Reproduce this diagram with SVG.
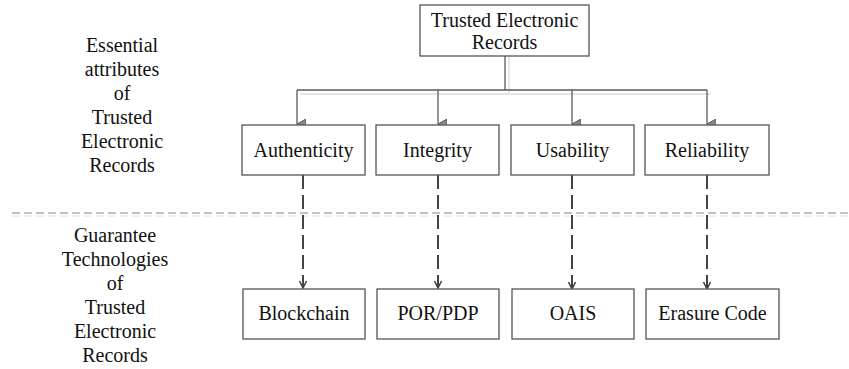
<svg xmlns="http://www.w3.org/2000/svg" width="849" height="369" viewBox="0 0 849 369">
  <style>
    text { font-family: "Liberation Serif", "Times New Roman", serif; font-size: 20px; fill: #111; text-anchor: middle; }
    .box { fill: #fff; stroke: #555; stroke-width: 1.3; }
    .tree { fill: none; stroke: #5a5a5a; stroke-width: 1.3; }
    .ghost { fill: none; stroke: #dcdcdc; stroke-width: 1.3; }
    .dash { fill: none; stroke: #444; stroke-width: 2; stroke-dasharray: 14 6; }
    .head { fill: none; stroke: #444; stroke-width: 1.6; }
    .sep { fill: none; stroke: #8a8a8a; stroke-width: 1.2; stroke-dasharray: 8 4; }
    .sep2 { fill: none; stroke: #e2e2e2; stroke-width: 1.2; stroke-dasharray: 8 4; }
  </style>
  <defs>
    <marker id="tri" viewBox="0 0 10 9" refX="5" refY="9" markerWidth="10" markerHeight="9" markerUnits="userSpaceOnUse" orient="auto-start-reverse">
      <path d="M0,0 L10,0 L5,9 Z" fill="#8a8a8a" stroke="#555" stroke-width="1"/>
    </marker>
  </defs>

  <!-- Section labels -->
  <g id="label-attributes">
    <text x="122" y="52">Essential</text>
    <text x="122" y="76">attributes</text>
    <text x="122" y="100">of</text>
    <text x="122" y="124">Trusted</text>
    <text x="122" y="148">Electronic</text>
    <text x="122" y="172">Records</text>
  </g>
  <g id="label-technologies">
    <text x="115" y="242">Guarantee</text>
    <text x="115" y="266">Technologies</text>
    <text x="115" y="290">of</text>
    <text x="115" y="314">Trusted</text>
    <text x="115" y="338">Electronic</text>
    <text x="115" y="362">Records</text>
  </g>

  <!-- Separator between the two layers -->
  <g id="separator">
    <line class="sep2" x1="12" y1="216" x2="849" y2="216"/>
    <line class="sep" x1="12" y1="213" x2="849" y2="213"/>
  </g>

  <!-- Connectors -->
  <g id="connectors">
    <path class="ghost" d="M509,56 V94 M300,94 H711"/>
    <path class="tree" d="M505,56 V90 M297,90 H707"/>
    <line class="tree" x1="297" y1="90" x2="297" y2="124" marker-end="url(#tri)"/>
    <line class="tree" x1="438" y1="90" x2="438" y2="124" marker-end="url(#tri)"/>
    <line class="tree" x1="572" y1="90" x2="572" y2="124" marker-end="url(#tri)"/>
    <line class="tree" x1="707" y1="90" x2="707" y2="124" marker-end="url(#tri)"/>

    <line class="dash" x1="303" y1="175" x2="303" y2="287"/>
    <line class="dash" x1="438" y1="175" x2="438" y2="287"/>
    <line class="dash" x1="572" y1="175" x2="572" y2="288"/>
    <line class="dash" x1="707" y1="175" x2="707" y2="288"/>
    <path class="head" d="M299.5,281 L303,288 L306.5,281"/>
    <path class="head" d="M434.5,281 L438,288 L441.5,281"/>
    <path class="head" d="M568.5,282 L572,289 L575.5,282"/>
    <path class="head" d="M703.5,282 L707,289 L710.5,282"/>
  </g>

  <!-- Root node -->
  <g id="trusted-electronic-records">
    <rect class="box" x="420" y="5" width="169" height="51"/>
    <text x="504.5" y="27">Trusted Electronic</text>
    <text x="504.5" y="49">Records</text>
  </g>

  <!-- Attribute nodes -->
  <g id="authenticity">
    <rect class="box" x="242" y="125" width="123" height="50"/>
    <text x="303.5" y="157">Authenticity</text>
  </g>
  <g id="integrity">
    <rect class="box" x="376" y="125" width="123" height="50"/>
    <text x="437.5" y="157">Integrity</text>
  </g>
  <g id="usability">
    <rect class="box" x="511" y="125" width="123" height="50"/>
    <text x="572.5" y="157">Usability</text>
  </g>
  <g id="reliability">
    <rect class="box" x="645" y="125" width="124" height="50"/>
    <text x="707" y="157">Reliability</text>
  </g>

  <!-- Technology nodes -->
  <g id="blockchain">
    <rect class="box" x="243" y="289" width="122" height="50"/>
    <text x="304" y="320">Blockchain</text>
  </g>
  <g id="por-pdp">
    <rect class="box" x="377" y="289" width="122" height="50"/>
    <text x="438" y="320">POR/PDP</text>
  </g>
  <g id="oais">
    <rect class="box" x="512" y="289" width="122" height="50"/>
    <text x="573" y="320">OAIS</text>
  </g>
  <g id="erasure-code">
    <rect class="box" x="646" y="289" width="133" height="50"/>
    <text x="712.5" y="320">Erasure Code</text>
  </g>
</svg>
